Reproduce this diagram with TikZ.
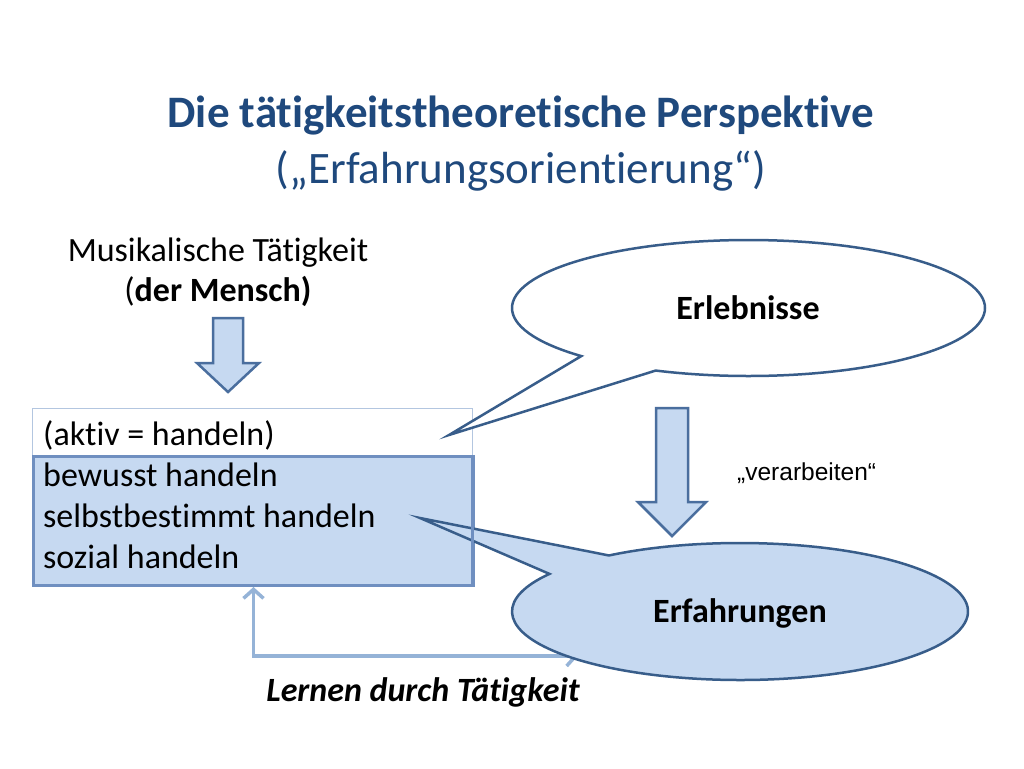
\documentclass[tikz,border=0pt]{standalone}
\usepackage{fontspec}
\setmainfont{Carlito}[Ligatures=NoCommon]
\newfontfamily\arialfont{Liberation Sans}
\usetikzlibrary{arrows.meta,calc}
\definecolor{titleblue}{HTML}{1F497D}
\definecolor{outl}{HTML}{385D8A}
\definecolor{lightfill}{HTML}{C6D9F1}
\definecolor{boxborder}{HTML}{6F8FC0}
\definecolor{thinborder}{HTML}{B3C6E0}
\definecolor{loopcol}{HTML}{95B3D7}
\definecolor{arrowoutl}{HTML}{4A6E9E}
\begin{document}
\begin{tikzpicture}[x=1pt,y=-1pt,
  txt/.style={inner sep=0pt, anchor=base},
  bodyfont/.style={font=\fontsize{34}{41}\selectfont},
  boldfont/.style={font=\fontsize{34}{41}\selectfont\bfseries},
  callout/.style={draw=outl, line width=2.5pt, line join=miter},
  downarrow/.style={draw=arrowoutl, fill=lightfill, line width=2.5pt, line join=miter},
  looparrow/.style={draw=loopcol, line width=3.5pt, {Straight Barb[length=9pt,width=20pt]}-{Straight Barb[length=9pt,width=20pt]}},
]
\useasboundingbox (0,0) rectangle (1024,768);
\fill[white] (0,0) rectangle (1024,768);

% title
\node[txt, font=\fontsize{45}{54}\selectfont\bfseries, text=titleblue] (title) at (521,127) {Die tätigkeitstheoretische Perspektive};
\node[txt, font=\fontsize{45}{54}\selectfont, text=titleblue] (subtitle) at (521,183) {(„Erfahrungsorientierung“)};

% top left labels
\node[txt, bodyfont] (mus) at (218,261) {Musikalische Tätigkeit};
\node[txt, bodyfont] (mensch) at (218,301) {(\textbf{der Mensch)}};

% top down arrow
\draw[downarrow] (213,318) -- (243,318) -- (243,363) -- (259,363) -- (228,392) -- (197,363) -- (213,363) -- cycle;

% box
\draw[thinborder, line width=1pt, fill=white] (32,408) rectangle (472,455);
\node[draw=boxborder, fill=lightfill, line width=3pt, minimum width=440pt, minimum height=129pt, inner sep=0pt, anchor=north west] (box) at (32,455) {};

\node[txt, anchor=base west, bodyfont] (aktiv) at (43,445) {(aktiv = handeln)};
\node[txt, anchor=base west, bodyfont] (l1) at (43,486) {bewusst handeln};
\node[txt, anchor=base west, bodyfont] (l2) at (43,527) {selbstbestimmt handeln};
\node[txt, anchor=base west, bodyfont] (l3) at (43,568) {sozial handeln};

% loop arrow
\coordinate (loopend) at (578,656);
\draw[looparrow] (box.south) |- (loopend);

% verarbeiten arrow
\draw[downarrow] (656,408) -- (688,408) -- (688,502) -- (706,502) -- (672,536) -- (638,502) -- (656,502) -- cycle;
\node[txt, anchor=base west, font=\arialfont\fontsize{24.5}{29}\selectfont] (verarb) at (737,480) {„verarbeiten“};

% Erfahrungen callout
\coordinate (cF) at (740,611.5);
\coordinate (tipF) at (420,518);
\draw[callout, fill=lightfill] (tipF) -- ($(cF)+(234.9:228 and 68.5)$) arc[start angle=234.9, end angle=573.3, x radius=228, y radius=68.5] -- cycle;
\draw[boxborder, line width=3pt] (472,455) -- (472,584);
\node[txt, boldfont] (erf) at (740,622) {Erfahrungen};

% Erlebnisse callout
\coordinate (cE) at (748.5,308);
\coordinate (tipE) at (449,435);
\draw[callout, fill=white] (tipE) -- ($(cE)+(135:236.5 and 68)$) arc[start angle=135, end angle=473.1, x radius=236.5, y radius=68] -- cycle;
\node[txt, boldfont] (erl) at (748,319) {Erlebnisse};

% bottom label
\node[txt, font=\fontsize{34}{41}\selectfont\bfseries\itshape] (lernen) at (423,701) {Lernen durch Tätigkeit};
\end{tikzpicture}
\end{document}
